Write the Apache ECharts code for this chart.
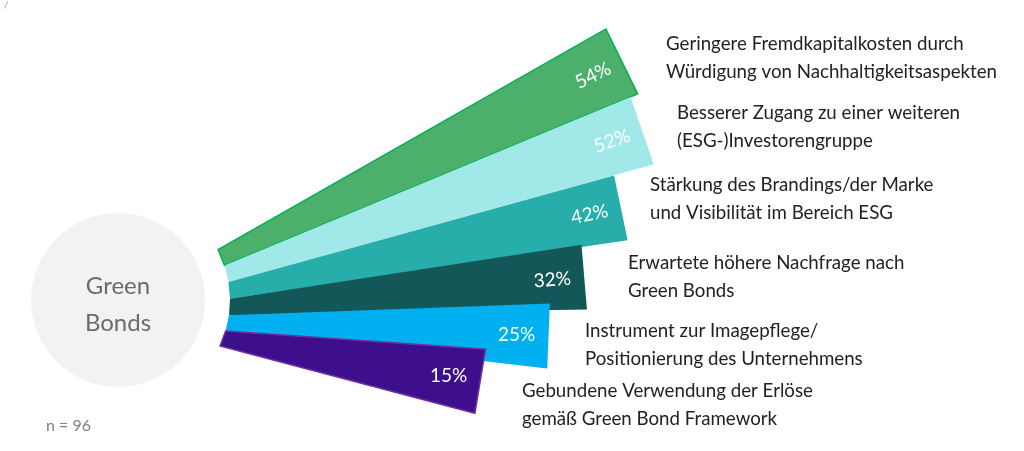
<!DOCTYPE html>
<html><head><meta charset="utf-8">
<script src="https://cdn.jsdelivr.net/npm/echarts@6/dist/echarts.min.js"></script>
<style>html,body{margin:0;padding:0;background:#fff}#c{width:1024px;height:451px}</style>
</head><body><div id="c"></div>
<script>
// ---- data ----
const categories = [
  'Geringere Fremdkapitalkosten durch\nWürdigung von Nachhaltigkeitsaspekten',
  'Besserer Zugang zu einer weiteren\n(ESG-)Investorengruppe',
  'Stärkung des Brandings/der Marke\nund Visibilität im Bereich ESG',
  'Erwartete höhere Nachfrage nach\nGreen Bonds',
  'Instrument zur Imagepflege/\nPositionierung des Unternehmens',
  'Gebundene Verwendung der Erlöse\ngemäß Green Bond Framework'
];
const values = [54, 52, 42, 32, 25, 15];
const centerLabel = 'Green\nBonds';
const sampleNote = 'n = 96';

// ---- style / layout ----
const colors = ['#4caf6c', '#a0e9e8', '#27aeaa', '#145758', '#00b0f0', '#3e0f8c'];
const strokes = ['#00b050', null, null, null, null, '#7030a0'];
const FONT = 'Lato';
const HUB = { cx: 118, cy: 300, r: 87, arcR: 112 };
const labelAnchors = [[666, 58], [677, 127], [650, 199], [628, 277], [585, 345], [522, 404.5]];
const R_MIN = -3; // radius axis works on a square-root scale
const scaleR = function (v) { return Math.sqrt(v); };

function renderItem(params, api) {
  const v = api.value(0), a = api.value(1);
  const C = api.coord([R_MIN, a]);
  const P = api.coord([scaleR(v), a]);
  const dx = P[0] - C[0], dy = P[1] - C[1];
  const len = Math.hypot(dx, dy);
  const u = [dx / len, dy / len];
  const n = [-u[1], u[0]];
  function innerPt(ang) {
    const Q = api.coord([0, ang]);
    let qx = Q[0] - C[0], qy = Q[1] - C[1];
    const ql = Math.hypot(qx, qy);
    qx /= ql; qy /= ql;
    const ox = C[0] - HUB.cx, oy = C[1] - HUB.cy;
    const b = qx * ox + qy * oy;
    const c = ox * ox + oy * oy - HUB.arcR * HUB.arcR;
    const t = -b + Math.sqrt(b * b - c);
    return [C[0] + qx * t, C[1] + qy * t];
  }
  const A1 = api.coord([scaleR(v), a - 0.5]), A2 = api.coord([scaleR(v), a + 0.5]);
  const hTile = Math.hypot(A1[0] - A2[0], A1[1] - A2[1]) / 2;
  const h = Math.max(32.5, hTile);
  const pts = [
    innerPt(a - 0.5),
    [P[0] - n[0] * h, P[1] - n[1] * h],
    [P[0] + n[0] * h, P[1] + n[1] * h],
    innerPt(a + 0.5)
  ];
  const idx = params.dataIndex;
  const ang = Math.atan2(-u[1], u[0]);
  return {
    type: 'group',
    children: [
      {
        type: 'polygon',
        shape: { points: pts },
        style: {
          fill: colors[idx],
          stroke: strokes[idx] || null,
          lineWidth: strokes[idx] ? 1.5 : 0
        }
      },
      {
        type: 'text',
        x: P[0] - u[0] * 32,
        y: P[1] - u[1] * 32,
        rotation: Math.max(0, ang),
        style: {
          text: values[idx] + '%',
          fill: '#ffffff',
          fontSize: 19,
          fontFamily: FONT,
          align: 'center',
          verticalAlign: 'middle'
        }
      }
    ]
  };
}

const chart = echarts.init(document.getElementById('c'), null, { renderer: 'canvas' });
const graphics = [
  { type: 'circle', shape: { cx: HUB.cx, cy: HUB.cy, r: HUB.r }, style: { fill: '#f2f2f2' }, z: 0 },
  { type: 'text', x: HUB.cx, y: HUB.cy + 5, style: { text: centerLabel, fill: '#6b6b6b', fontSize: 24, fontFamily: FONT, lineHeight: 37, align: 'center', verticalAlign: 'middle' } },
  { type: 'text', x: 46, y: 426, style: { text: sampleNote, fill: '#808080', fontSize: 16, fontFamily: FONT, align: 'left', verticalAlign: 'middle' } },
  { type: 'text', x: 4, y: 5, style: { text: '/', fill: '#9a9a9a', fontSize: 10, fontFamily: FONT, align: 'left', verticalAlign: 'middle' } }
];
categories.forEach(function (t, i) {
  graphics.push({ type: 'text', x: labelAnchors[i][0], y: labelAnchors[i][1],
    style: { text: t, fill: '#222222', fontSize: 18.7, fontFamily: FONT, lineHeight: 28, align: 'left', verticalAlign: 'middle' } });
});

chart.setOption({
  animation: false,
  polar: { center: [98, 318], radius: [0, 620] },
  radiusAxis: { type: 'value', min: R_MIN, max: 8, axisLine: { show: false }, axisTick: { show: false }, axisLabel: { show: false }, splitLine: { show: false } },
  angleAxis: { type: 'value', min: 0, max: 360 / 7.1, startAngle: 26.1, clockwise: true, axisLine: { show: false }, axisTick: { show: false }, axisLabel: { show: false }, splitLine: { show: false } },
  graphic: graphics,
  series: [{
    type: 'custom',
    coordinateSystem: 'polar',
    renderItem: renderItem,
    encode: { radius: 0, angle: 1 },
    data: values.map(function (v, i) { return [v, i]; }),
    z: 2
  }]
});
</script></body></html>
